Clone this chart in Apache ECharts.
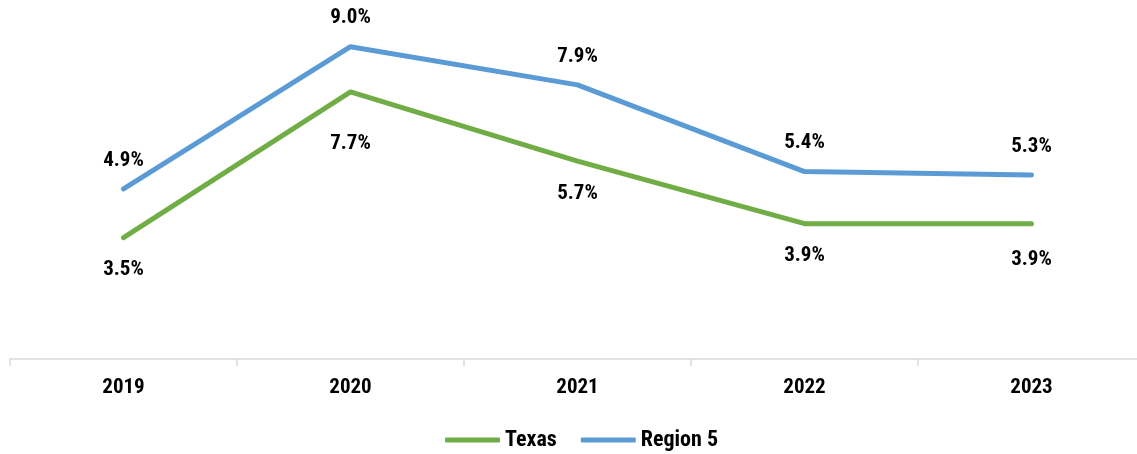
<!DOCTYPE html>
<html><head><meta charset="utf-8">
<script src="https://cdn.jsdelivr.net/npm/echarts@6/dist/echarts.min.js"></script>
<style>html,body{margin:0;padding:0;background:#fff}#c{width:1137px;height:454px}</style>
</head><body><div id="c"></div>
<script>
const categories = ['2019','2020','2021','2022','2023'];
const texas = [3.5, 7.7, 5.7, 3.9, 3.9];
const region5 = [4.9, 9.0, 7.9, 5.4, 5.3];
const seriesNames = ['Texas', 'Region 5'];

const FONT = '"Liberation Sans Narrow", "Arial Narrow", "Roboto Condensed", sans-serif';
const chart = echarts.init(document.getElementById('c'));
const lbl = (pos, dist) => ({show: true, position: pos, distance: dist, formatter: p => p.value.toFixed(1) + '%',
  fontFamily: FONT, fontWeight: 'bold', fontSize: 21, color: '#000'});
chart.setOption({
  animation: false,
  grid: {left: 10, width: 1135, top: 12, bottom: 95, outerBoundsMode: 'none', containLabel: false},
  legend: {bottom: 3, left: 445, padding: 0, itemWidth: 55, itemHeight: 5, itemGap: 24,
    textStyle: {fontFamily: FONT, fontWeight: 'bold', fontSize: 22, color: '#000'},
    data: seriesNames.map(n => ({name: n, icon: 'roundRect'}))},
  xAxis: {type: 'category', data: categories, boundaryGap: true,
    axisLine: {lineStyle: {color: '#d9d9d9', width: 1.5}},
    axisTick: {show: true, length: 7, lineStyle: {color: '#d9d9d9', width: 1.5}},
    axisLabel: {fontFamily: FONT, fontWeight: 'bold', fontSize: 21, color: '#000', margin: 18}},
  yAxis: {type: 'value', min: 0, max: 10, show: false, splitLine: {show: false}},
  series: [
    {name: seriesNames[0], type: 'line',
      data: texas.map((v, i) => i === 1 ? {value: v, label: {distance: 41}} : (i === 4 ? {value: v, label: {distance: 26}} : v)),
      symbol: 'circle', symbolSize: 0, showSymbol: true, color: '#70AD47',
      lineStyle: {width: 5, color: '#70AD47', cap: 'round'},
      label: lbl('bottom', 22)},
    {name: seriesNames[1], type: 'line', data: region5, symbol: 'circle', symbolSize: 0, showSymbol: true, color: '#5B9BD5',
      lineStyle: {width: 5, color: '#5B9BD5', cap: 'round'}, label: lbl('top', 18)}
  ]
});
</script></body></html>
